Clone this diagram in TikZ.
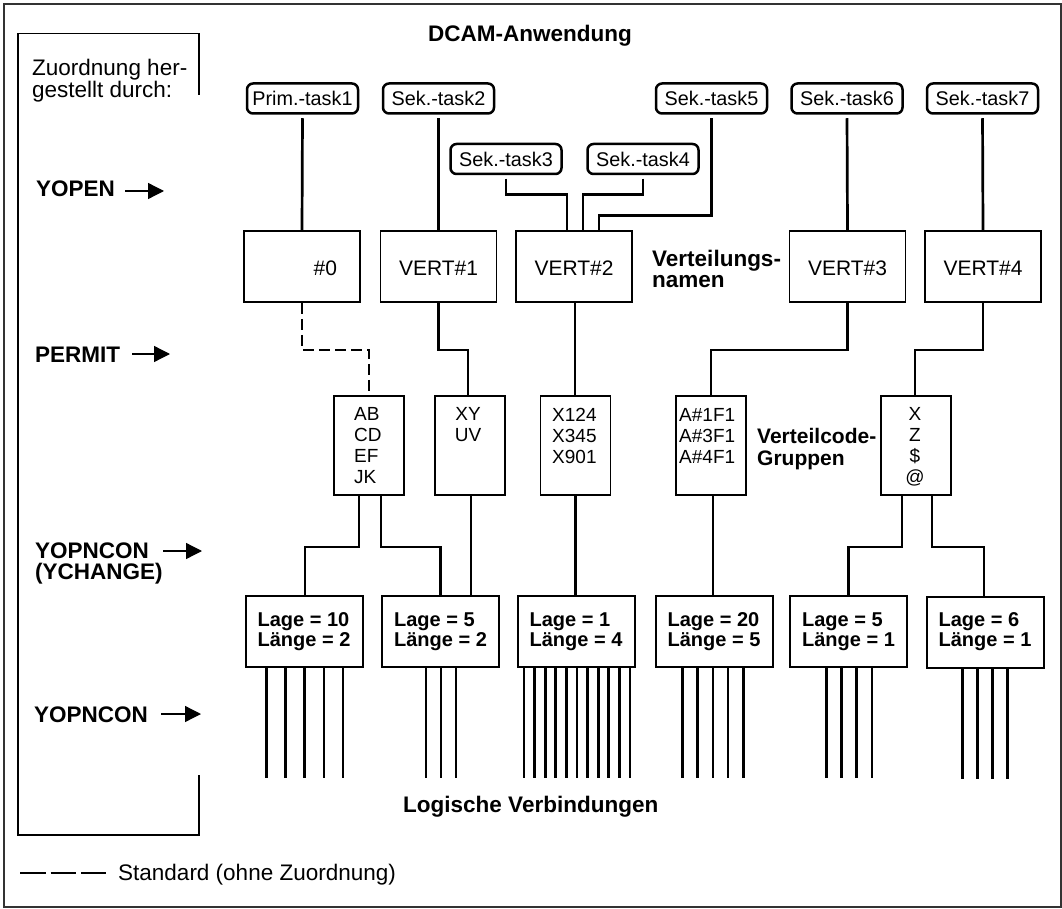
\documentclass[tikz,border=0pt]{standalone}
\usepackage{fontspec}
\setmainfont{Liberation Sans}
\usetikzlibrary{arrows.meta}

\newcommand\fsz[2]{\fontsize{#1}{#2}\selectfont}

\tikzset{
  outerframe/.style={line width=2pt, draw=black!80},
  innerframe/.style={line width=1.4pt},
  taskbox/.style={draw, line width=2.5pt, rounded corners=6pt, minimum width=111pt,
    minimum height=30pt, inner sep=0pt, font=\fsz{19.8}{22}, text height=14.2pt, text depth=0pt},
  distbox/.style={draw, line width=1.7pt, minimum width=116pt, minimum height=71pt,
    inner sep=0pt, font=\fsz{21}{24}, text height=19pt, text depth=0pt},
  codebox/.style={draw, line width=1.7pt, minimum width=70pt, minimum height=99pt, inner sep=0pt},
  codetext/.style={inner sep=0pt, font=\fsz{19}{21}},
  lagebox/.style={draw, line width=2pt, minimum width=117pt, minimum height=71pt,
    inner sep=0pt, align=left, font=\bfseries\fsz{20}{20}},
  conn/.style={line width=2.7pt},
  dashconn/.style={line width=2.7pt, dash pattern=on 11pt off 5pt},
  fan/.style={line width=2.7pt},
  lbl/.style={inner sep=0pt, font=\bfseries\fsz{22.5}{21}},
  plain/.style={inner sep=0pt, font=\fsz{22.5}{17}},
  arr/.style={line width=1.3pt, -{Triangle[length=16pt,width=16pt]}},
}

\begin{document}
\begin{tikzpicture}[x=1pt,y=-1pt]
\useasboundingbox (0,0) rectangle (1062,909);

% frames
\draw[outerframe] (4,4) rectangle (1061,907);
\draw[innerframe] (199,95) -- (199,33.5) -- (18,33.5) -- (18,835) -- (199,835) -- (199,775);
\node[plain, anchor=north west, align=left] (zuord) at (32,58.8) {Zuordnung her-\\gestellt durch:};

% headings and captions
\node[lbl, anchor=base] (title) at (530,42) {DCAM-Anwendung};
\node[lbl, anchor=north west, align=left] (vname) at (652,249.9) {Verteilungs-\\namen};
\node[lbl, anchor=north west, align=left, font=\bfseries\fsz{21}{22}] (vcode) at (757,428) {Verteilcode-\\Gruppen};
\node[lbl, anchor=base west] (logv) at (403,812) {Logische Verbindungen};

% call labels on the left
\node[lbl, anchor=base west] (yopen) at (36,197) {YOPEN};
\node[lbl, anchor=base west] (permit) at (35,362) {PERMIT};
\node[lbl, anchor=north west, align=left] (ychange) at (35,542.9) {YOPNCON\\(YCHANGE)};
\node[lbl, anchor=base west] (yopncon) at (34,722) {YOPNCON};

\coordinate (a1s) at (125,191); \coordinate (a1e) at (164,191);
\coordinate (a2s) at (132,354); \coordinate (a2e) at (170,354);
\coordinate (a3s) at (163,551); \coordinate (a3e) at (202,551);
\coordinate (a4s) at (161,714); \coordinate (a4e) at (201,714);
\draw[arr] (a1s) -- (a1e);
\draw[arr] (a2s) -- (a2e);
\draw[arr] (a3s) -- (a3e);
\draw[arr] (a4s) -- (a4e);

% tasks
\node[taskbox] (t1) at (302.5,98.5) {Prim.-task1};
\node[taskbox] (t2) at (438.5,98.5) {Sek.-task2};
\node[taskbox] (t3) at (506,159) {Sek.-task3};
\node[taskbox] (t4) at (643,159) {Sek.-task4};
\node[taskbox] (t5) at (711.5,98.5) {Sek.-task5};
\node[taskbox] (t6) at (847,98.5) {Sek.-task6};
\node[taskbox] (t7) at (982.5,98.5) {Sek.-task7};

% distribution names
\node[distbox, text width=70pt, align=right] (n0) at (302,266.5) {\#0};
\node[distbox] (v1) at (438.5,266.5) {VERT\#1};
\node[distbox] (v2) at (574,266.5) {VERT\#2};
\node[distbox] (v3) at (847.5,266.5) {VERT\#3};
\node[distbox] (v4) at (983,266.5) {VERT\#4};

% distribution code groups
\node[codebox] (ab) at (369,445.5) {};
\node[codebox] (xy) at (470,445.5) {};
\node[codebox] (xn) at (575.5,445.5) {};
\node[codebox] (af) at (711,445.5) {};
\node[codebox] (xz) at (916,445.5) {};
\node[codetext, anchor=north west, align=left] (abt) at (354,407.4) {AB\\CD\\EF\\JK};
\node[codetext, anchor=north, align=center] (xyt) at (468,407.4) {XY\\UV};
\node[codetext, anchor=north west, align=left] (xnt) at (552,408) {X124\\X345\\X901};
\node[codetext, anchor=north west, align=left] (aft) at (679,408) {A\#1F1\\A\#3F1\\A\#4F1};
\node[codetext, anchor=north, align=center] (xzt) at (915,407.4) {X\\Z\\\$\\@};

% position / length boxes
\node[lagebox] (l1) at (304,631.5) {Lage = 10\\Länge = 2};
\node[lagebox] (l2) at (440.5,631.5) {Lage = 5\\Länge = 2};
\node[lagebox] (l3) at (576,631.5) {Lage = 1\\Länge = 4};
\node[lagebox] (l4) at (714,631.5) {Lage = 20\\Länge = 5};
\node[lagebox] (l5) at (848.5,631.5) {Lage = 5\\Länge = 1};
\node[lagebox] (l6) at (985,632) {Lage = 6\\Länge = 1};

% tasks to distribution names
\draw[conn, shorten <=3.5pt] (t1.south) -- (n0.north);
\draw[conn, shorten <=3.5pt] (t2.south) -- (v1.north);
\draw[conn, shorten <=3.5pt] (t3.south) -- ++(0,19) -| ([xshift=-7pt]v2.north);
\draw[conn, shorten <=3.5pt] (t4.south) -- ++(0,19) -| ([xshift=9pt]v2.north);
\draw[conn, shorten <=3.5pt] (t5.south) -- ++(0,101) -| ([xshift=25pt]v2.north);
\draw[conn, shorten <=3.5pt] (t6.south) -- (v3.north);
\draw[conn, shorten <=3.5pt] (t7.south) -- (v4.north);

% distribution names to code groups
\draw[dashconn] (n0.south) -- ++(0,47) -| (ab.north);
\draw[conn] (v1.south) -- ++(0,47) -| ([xshift=-2pt]xy.north);
\draw[conn] ([xshift=1pt]v2.south) -- ([xshift=1pt]v2.south |- xn.north);
\draw[conn] (v3.south) -- ++(0,47) -| (af.north);
\draw[conn] (v4.south) -- ++(0,47) -| ([xshift=-1pt]xz.north);

% code groups to position / length boxes
\draw[conn] ([xshift=-10pt]ab.south) -- ++(0,51) -| ([xshift=1pt]l1.north);
\draw[conn] ([xshift=12pt]ab.south) -- ++(0,51) -| (l2.north);
\draw[conn] ([xshift=1pt]xy.south) -- ([xshift=1pt]xy.south |- l2.north);
\draw[conn] (xn.south) -- (xn.south |- l3.north);
\draw[conn] ([xshift=2pt]af.south) -- ([xshift=2pt]af.south |- l4.north);
\draw[conn] ([xshift=-14pt]xz.south) -- ++(0,51) -| (l5.north);
\draw[conn] ([xshift=16pt]xz.south) -- ++(0,51) -| ([xshift=-1pt]l6.north);

% logical connections
\foreach \dx in {-37.5,-18.5,0.5,20,39}
  \draw[fan] ([xshift=\dx pt]l1.south) -- ++(0,110);
\foreach \dx in {-14.5,0.5,15.5}
  \draw[fan] ([xshift=\dx pt]l2.south) -- ++(0,110);
\foreach \i in {0,...,10}
  \draw[fan] ([xshift={-51.9pt+10.58pt*\i}]l3.south) -- ++(0,110);
\foreach \dx in {-31.5,-16.3,-1.1,14.1,29.3}
  \draw[fan] ([xshift=\dx pt]l4.south) -- ++(0,110);
\foreach \dx in {-22.2,-7,8.3,23.4}
  \draw[fan] ([xshift=\dx pt]l5.south) -- ++(0,110);
\foreach \dx in {-22.6,-7.7,7.5,22.7}
  \draw[fan] ([xshift=\dx pt]l6.south) -- ++(0,110);

% legend
\coordinate (legA) at (20,873);
\coordinate (legB) at (106,873);
\draw[line width=2.4pt, dash pattern=on 25.5pt off 5pt] (legA) -- (legB);
\node[plain, anchor=base west] (std) at (118,880) {Standard (ohne Zuordnung)};
\end{tikzpicture}
\end{document}
